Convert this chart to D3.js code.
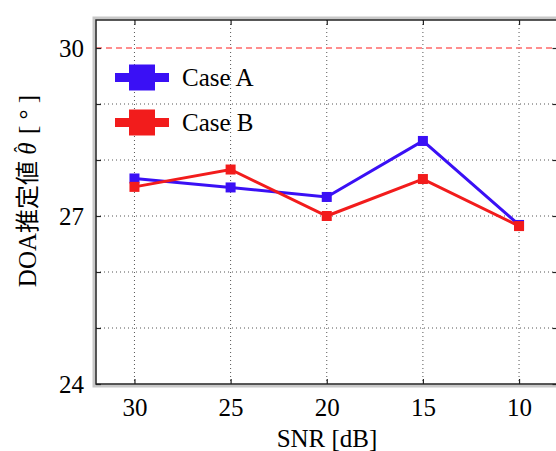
<!DOCTYPE html>
<html><head><meta charset="utf-8">
<script src="https://cdn.jsdelivr.net/npm/d3@7"></script>
<style>html,body{margin:0;padding:0;background:#fff;}svg{display:block;}</style>
</head><body>
<script>
const snr = [30, 25, 20, 15, 10];
const caseA = [27.67, 27.51, 27.34, 28.34, 26.84];
const caseB = [27.52, 27.83, 27.0, 27.66, 26.82];
const seriesNames = ["Case A", "Case B"];
const seriesColors = ["#3a10f5", "#f21c1c"];
const yTicks = [24, 25, 26, 27, 28, 29, 30];
const yLabelTicks = [24, 27, 30];
const trueDOA = 30;

const W = 556, H = 451;
const svg = d3.select("body").append("svg").attr("width", W).attr("height", H);
const L = 96, R = 557.5, T = 20, B = 384;
const x = d3.scaleLinear().domain([32, 8]).range([L, R]);
const y = d3.scaleLinear().domain([24, 30.5]).range([B, T]);
const serif = "'Liberation Serif','Times New Roman',serif";

// shadow frame
svg.append("rect").attr("x", L - 2).attr("y", T - 2).attr("width", R - L + 4).attr("height", B - T + 4)
  .attr("fill", "none").attr("stroke", "#c8c8c8").attr("stroke-width", 3);

// grid
const g = svg.append("g");
g.selectAll("line.gx").data(snr).join("line")
  .attr("x1", d => x(d)).attr("x2", d => x(d)).attr("y1", T).attr("y2", B)
  .attr("stroke", "#555").attr("stroke-width", 1).attr("stroke-dasharray", "1,3");
g.selectAll("line.gy").data(yTicks.filter(d => d !== 24 && d !== 30)).join("line")
  .attr("x1", L).attr("x2", R).attr("y1", d => y(d)).attr("y2", d => y(d))
  .attr("stroke", "#555").attr("stroke-width", 1).attr("stroke-dasharray", "1,3");

// true DOA dashed line
svg.append("line").attr("x1", L).attr("x2", R).attr("y1", y(trueDOA)).attr("y2", y(trueDOA))
  .attr("stroke", "#ff6a6a").attr("stroke-width", 1.5).attr("stroke-dasharray", "6,4");

// frame
svg.append("rect").attr("x", L).attr("y", T).attr("width", R - L).attr("height", B - T)
  .attr("fill", "none").attr("stroke", "#222").attr("stroke-width", 1.5);

// axes with inward ticks
const axL = d3.axisLeft(y).tickValues(yTicks).tickSizeInner(-5).tickSizeOuter(0)
  .tickFormat(d => yLabelTicks.includes(d) ? d : "").tickPadding(12);
const axR = d3.axisRight(y).tickValues(yTicks).tickSizeInner(-5).tickSizeOuter(0).tickFormat("");
const axB = d3.axisBottom(x).tickValues(snr).tickSizeInner(-5).tickSizeOuter(0).tickPadding(14);
const axT = d3.axisTop(x).tickValues(snr).tickSizeInner(-5).tickSizeOuter(0).tickFormat("");
function style(sel) {
  sel.select(".domain").remove();
  sel.selectAll(".tick line").attr("stroke", "#222").attr("stroke-width", 1.2);
  sel.selectAll(".tick text").attr("font-family", serif).attr("font-size", 25).attr("fill", "#000");
}
svg.append("g").attr("transform", `translate(${L},0)`).call(axL).call(style);
svg.append("g").attr("transform", `translate(${R},0)`).call(axR).call(style);
svg.append("g").attr("transform", `translate(0,${B})`).call(axB).call(style);
svg.append("g").attr("transform", `translate(0,${T})`).call(axT).call(style);

// series
const data = [caseA, caseB];
const line = d3.line().x((d, i) => x(snr[i])).y(d => y(d));
data.forEach((vals, k) => {
  svg.append("path").datum(vals).attr("d", line).attr("fill", "none")
    .attr("stroke", seriesColors[k]).attr("stroke-width", 3).attr("stroke-linejoin", "miter");
  svg.selectAll(null).data(vals).join("rect")
    .attr("x", (d, i) => x(snr[i]) - 5).attr("y", d => y(d) - 5)
    .attr("width", 10).attr("height", 10).attr("fill", seriesColors[k]);
});

// legend
const legY = [77.5, 122.5];
seriesNames.forEach((name, k) => {
  const lg = svg.append("g");
  lg.append("line").attr("x1", 115).attr("x2", 169).attr("y1", legY[k]).attr("y2", legY[k])
    .attr("stroke", seriesColors[k]).attr("stroke-width", 9);
  lg.append("rect").attr("x", 129).attr("y", legY[k] - 13).attr("width", 26).attr("height", 26)
    .attr("fill", seriesColors[k]);
  lg.append("text").attr("x", 182).attr("y", legY[k] + 8.5).attr("font-family", serif)
    .attr("font-size", 25).text(name);
});

// x label
svg.append("text").attr("x", 327).attr("y", 447).attr("text-anchor", "middle")
  .attr("font-family", serif).attr("font-size", 25).text("SNR [dB]");

// y label
const yl = svg.append("text").attr("transform", "translate(36,191) rotate(-90)")
  .attr("text-anchor", "middle").attr("font-family", serif).attr("font-size", 25);
yl.append("tspan").text("DOA");
yl.append("tspan").attr("font-family", "'Noto Sans CJK JP',sans-serif").attr("font-size", 24).text("推定値");
yl.append("tspan").text("\u00a0");
yl.append("tspan").attr("font-style", "italic").text("θ");
yl.append("tspan").attr("dx", -10).attr("dy", -9).attr("font-size", 18).text("ˆ");
yl.append("tspan").attr("dy", 9).text("\u00a0\u00a0[\u00a0°\u00a0]");
</script>
</body></html>
